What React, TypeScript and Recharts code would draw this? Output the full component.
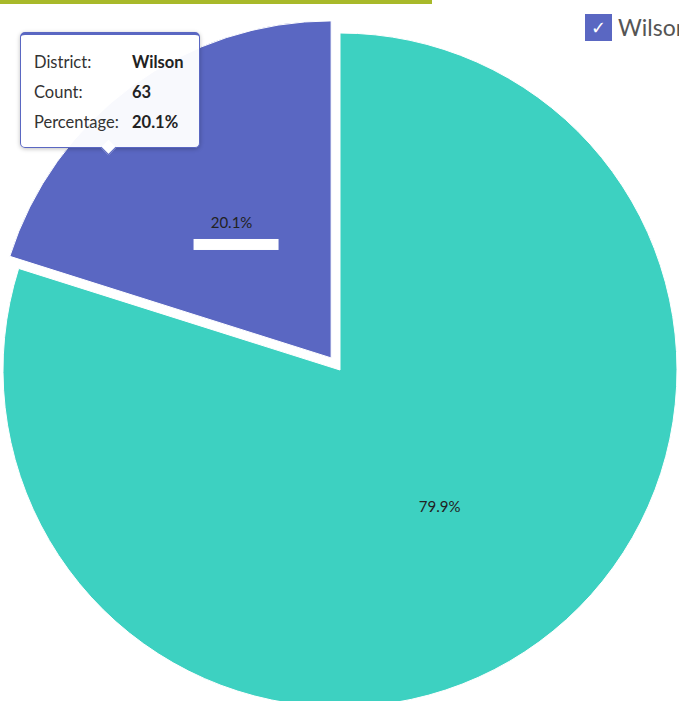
import React from "react";
import { PieChart, Pie, Cell } from "recharts";

// district counts (Wilson 63 = 20.1%)
const districts = ["Wilson", "Other"];
const counts = [63, 250];
const colors = ["#5a67c2", "#3dd1c1"];

const tooltipLabels = ["District:", "Count:", "Percentage:"];

const data = districts.map((name, i) => ({ name, value: counts[i] }));
const total = counts.reduce((a, b) => a + b, 0);

const CX = 340;
const CY = 370;
const R = 337;
const EXPLODE = 15;

// pull the Wilson slice out along its mid angle
const wilsonMid = 90 + (360 * counts[0]) / total / 2;
const offX = EXPLODE * Math.cos((wilsonMid * Math.PI) / 180);
const offY = -EXPLODE * Math.sin((wilsonMid * Math.PI) / 180);

const RADIAN = Math.PI / 180;

const makeLabel = (only: number) => (props: any) => {
  if (props.index !== only) return null;
  const r = props.outerRadius * 0.5;
  const x = props.cx + r * Math.cos(-props.midAngle * RADIAN);
  const y = props.cy + r * Math.sin(-props.midAngle * RADIAN);
  return (
    <g>
      <text
        x={x}
        y={y}
        textAnchor="middle"
        dominantBaseline="central"
        fontSize={15}
        fill="#222"
      >
        {(props.percent * 100).toFixed(1)}%
      </text>
      {only === 0 && (
        <rect x={x - 38} y={y + 17} width={85} height={11} fill="#fff" />
      )}
    </g>
  );
};

function ChartTooltip() {
  const values = [districts[0], String(counts[0]), ((counts[0] / total) * 100).toFixed(1) + "%"];
  return (
    <div
      style={{
        position: "absolute",
        left: 20,
        top: 32,
        width: 178,
        height: 112,
        background: "rgba(255,255,255,0.96)",
        border: "1px solid #5a67c2",
        borderTop: "3px solid #5a67c2",
        borderRadius: 5,
        boxShadow: "0 1px 4px rgba(0,0,0,0.25)",
        fontSize: 16.5,
        color: "#333",
      }}
    >
      {tooltipLabels.map((l, i) => (
        <div
          key={l}
          style={{
            position: "absolute",
            left: 13,
            top: 17 + i * 30,
            whiteSpace: "nowrap",
          }}
        >
          <span style={{ display: "inline-block", width: 98 }}>{l}</span>
          <span style={{ fontWeight: 700, color: "#222" }}>{values[i]}</span>
        </div>
      ))}
      <div
        style={{
          position: "absolute",
          left: 82,
          bottom: -6,
          width: 10,
          height: 10,
          background: "#fff",
          borderRight: "1px solid #5a67c2",
          borderBottom: "1px solid #5a67c2",
          transform: "rotate(45deg)",
        }}
      />
    </div>
  );
}

export default function App() {
  return (
    <div
      style={{
        position: "relative",
        width: 679,
        height: 701,
        overflow: "hidden",
        background: "#fff",
        fontFamily: "Lato, 'Open Sans', sans-serif",
      }}
    >
      <style>{`body{margin:0}`}</style>
      <div
        style={{
          position: "absolute",
          left: 0,
          top: 0,
          width: 432,
          height: 4,
          background: "#a8b92a",
        }}
      />
      <PieChart width={679} height={701} margin={{ top: 0, right: 0, bottom: 0, left: 0 }}>
        <Pie
          data={data}
          dataKey="value"
          nameKey="name"
          cx={CX}
          cy={CY}
          outerRadius={R}
          startAngle={90}
          endAngle={450}
          label={makeLabel(1)}
          labelLine={false}
          isAnimationActive={false}
        >
          {data.map((d, i) => (
            <Cell
              key={d.name}
              fill={i === 1 ? colors[1] : "transparent"}
              stroke={i === 1 ? "#fff" : "none"}
            />
          ))}
        </Pie>
        <Pie
          data={data}
          dataKey="value"
          nameKey="name"
          cx={CX + offX}
          cy={CY + offY}
          outerRadius={R}
          startAngle={90}
          endAngle={450}
          label={makeLabel(0)}
          labelLine={false}
          isAnimationActive={false}
        >
          {data.map((d, i) => (
            <Cell
              key={d.name}
              fill={i === 0 ? colors[0] : "transparent"}
              stroke={i === 0 ? "#fff" : "none"}
            />
          ))}
        </Pie>
      </PieChart>
      <ChartTooltip />
      <div
        style={{
          position: "absolute",
          left: 585,
          top: 13,
          display: "flex",
          alignItems: "center",
          whiteSpace: "nowrap",
        }}
      >
        <div
          style={{
            width: 27,
            height: 27,
            background: colors[0],
            color: "#fff",
            fontSize: 18,
            lineHeight: "27px",
            textAlign: "center",
          }}
        >
          ✓
        </div>
        <span style={{ marginLeft: 6, fontSize: 23, color: "#555" }}>{districts[0]}</span>
      </div>
    </div>
  );
}
